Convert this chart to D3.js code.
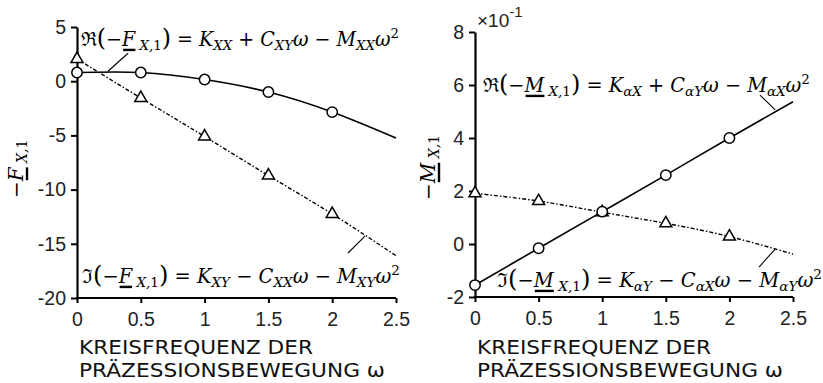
<!DOCTYPE html>
<html>
<head>
<meta charset="utf-8">
<script src="https://cdn.jsdelivr.net/npm/d3@7"></script>
<style>
  body { margin: 0; background: #fff; }
  svg { display: block; }
</style>
</head>
<body>
<div id="chart"></div>
<script>
// omega values
const omegaMarks = [0, 0.5, 1, 1.5, 2]
const omegaLine = [0, 0.5, 1, 1.5, 2, 2.5]
const xTicks = [0, 0.5, 1, 1.5, 2, 2.5]

// left panel: -F_X,1
const leftRealMarks = [0.8, 0.8, 0.15, -1.0, -2.85]
const leftRealLine = [0.8, 0.8, 0.15, -1.0, -2.85, -5.25]
const leftImagMarks = [2.05, -1.55, -5.1, -8.7, -12.25]
const leftImagLine = [2.05, -1.55, -5.1, -8.7, -12.25, -16.1]
const leftYTicks = [5, 0, -5, -10, -15, -20]

// right panel: -M_X,1 (x10^-1)
const rightRealMarks = [-1.55, -0.16, 1.22, 2.6, 4.0]
const rightRealLine = [-1.55, -0.16, 1.22, 2.6, 4.0, 5.37]
const rightImagMarks = [1.91, 1.62, 1.2, 0.78, 0.28]
const rightImagLine = [1.91, 1.62, 1.2, 0.78, 0.28, -0.38]
const rightYTicks = [8, 6, 4, 2, 0, -2]

const xLabelLines = ['KREISFREQUENZ DER', 'PRÄZESSIONSBEWEGUNG ω']

const width = 823
const height = 383

const svg = d3.select('#chart')
  .append('svg')
  .attr('width', width)
  .attr('height', height)

const serif = "'DejaVu Serif', 'Liberation Serif', serif"

// write an equation made of small pieces: [text, position, style, extra]
const mathText = (g, x, y, parts, size, fit) => {
  const t = g.append('text')
    .attr('x', x)
    .attr('y', y)
    .attr('font-family', serif)
    .attr('font-size', size)
    .style('white-space', 'pre')
  let off = 0
  parts.forEach(p => {
    const [txt, pos, sty, extra] = p
    const target = pos === 'sub' ? size * 0.22 : pos === 'sup' ? -size * 0.42 : 0
    let fs = pos === 'n' ? size : size * 0.7
    if (extra === 'big') fs = size * 1.25
    const ts = t.append('tspan')
      .attr('dy', target - off)
      .attr('font-size', fs)
      .attr('font-style', sty === 'i' ? 'italic' : 'normal')
      .text(txt)
    if (extra === 'ul') ts.classed('ul', true)
    off = target
  })
  // stretch to the width
  if (fit) {
    const w = t.node().getComputedTextLength()
    t.attr('transform', `translate(${x},0) scale(${fit / w},1) translate(${-x},0)`)
  }
  // underline the vector letter with a thick bar
  const node = t.node()
  const full = node.textContent
  t.selectAll('tspan.ul').each(function () {
    const idx = full.indexOf(this.textContent)
    const box = node.getExtentOfChar(idx)
    const k = fit ? fit / node.getComputedTextLength() : 1
    g.append('rect')
      .attr('x', x + (box.x + 1 - x) * k)
      .attr('y', y + size * 0.14)
      .attr('width', (box.width - 1) * k)
      .attr('height', 2.4)
      .attr('fill', '#000')
  })
  return t
}

const drawPanel = (cfg) => {
  const g = svg.append('g')
  const x = d3.scaleLinear().domain([0, 2.5]).range([cfg.left, cfg.right])
  const y = d3.scaleLinear().domain(cfg.yDomain).range([cfg.bottom, cfg.top])

  // axes
  const xAxis = d3.axisBottom(x)
    .tickValues(xTicks)
    .tickFormat(d => String(d))
    .tickSize(5)
    .tickSizeOuter(0)
    .tickPadding(9)
  const yAxis = d3.axisLeft(y)
    .tickValues(cfg.yTicks)
    .tickFormat(d => String(d))
    .tickSize(6)
    .tickSizeOuter(0)
    .tickPadding(5)

  const xg = g.append('g')
    .attr('transform', `translate(0,${cfg.bottom})`)
    .call(xAxis)
  const yg = g.append('g')
    .attr('transform', `translate(${cfg.left},0)`)
    .call(yAxis)
  ;[xg, yg].forEach(a => {
    a.attr('font-family', "'Liberation Sans', Arial, sans-serif").attr('font-size', 19.5)
    a.select('.domain').attr('stroke-width', 2.2)
    a.selectAll('.tick line').attr('stroke-width', 2)
    a.selectAll('.tick text').attr('fill', '#222')
  })
  xg.select('.domain').attr('d', `M${cfg.left - 1},0H${cfg.right}`)

  const line = d3.line()
    .x((d, i) => x(omegaLine[i]))
    .y(d => y(d))
    .curve(d3.curveNatural)

  // imaginary part: dash-dot line
  g.append('path')
    .datum(cfg.imagLine)
    .attr('d', line)
    .attr('fill', 'none')
    .attr('stroke', '#000')
    .attr('stroke-width', 1.4)
    .attr('stroke-dasharray', '4,2,1.5,2')

  // real part: solid line
  g.append('path')
    .datum(cfg.realLine)
    .attr('d', line)
    .attr('fill', 'none')
    .attr('stroke', '#000')
    .attr('stroke-width', 1.6)

  // triangles
  const tri = d3.symbol().type(d3.symbolTriangle).size(62)
  g.selectAll('.tri')
    .data(cfg.imagMarks)
    .join('path')
    .attr('class', 'tri')
    .attr('d', tri)
    .attr('transform', (d, i) => `translate(${x(omegaMarks[i])},${y(d)})`)
    .attr('fill', '#fff')
    .attr('stroke', '#000')
    .attr('stroke-width', 1.5)

  // circles
  g.selectAll('.circ')
    .data(cfg.realMarks)
    .join('circle')
    .attr('class', 'circ')
    .attr('cx', (d, i) => x(omegaMarks[i]))
    .attr('cy', d => y(d))
    .attr('r', 5.2)
    .attr('fill', '#fff')
    .attr('stroke', '#000')
    .attr('stroke-width', 1.5)

  // leader lines for the equations
  cfg.leaders.forEach(l => {
    g.append('line')
      .attr('x1', x(l[0])).attr('y1', y(l[1]))
      .attr('x2', x(l[2])).attr('y2', y(l[3]))
      .attr('stroke', '#000')
      .attr('stroke-width', 1.1)
  })

  // equations
  mathText(g, cfg.realEq.x, cfg.realEq.y, cfg.realEq.parts, 19.5, cfg.realEq.w)
  mathText(g, cfg.imagEq.x, cfg.imagEq.y, cfg.imagEq.parts, 19.5, cfg.imagEq.w)

  // y label, rotated
  const yl = g.append('g')
    .attr('transform', `translate(${cfg.yLabelX},${cfg.yLabelY}) rotate(-90)`)
  mathText(yl, 0, 0, cfg.yLabelParts, 20, null)

  // x label
  xLabelLines.forEach((s, i) => {
    g.append('text')
      .attr('x', cfg.left + 2)
      .attr('y', 354 + i * 23)
      .attr('font-family', "'DejaVu Sans', Verdana, sans-serif")
      .attr('font-size', 19)
      .attr('fill', '#111')
      .attr('textLength', i === 0 ? 234 : 306)
      .attr('lengthAdjust', 'spacingAndGlyphs')
      .text(s)
  })
  return { g, x, y }
}

const vec = (letter) => [
  ['(', 'n', 'n', 'big'], ['−', 'n', 'n'], [letter, 'n', 'i', 'ul'],
  [' X,', 'sub', 'i'], ['1', 'sub', 'n'], [')', 'n', 'n', 'big']
]

drawPanel({
  left: 77, right: 396, top: 27, bottom: 298,
  yDomain: [-20, 5], yTicks: leftYTicks,
  realMarks: leftRealMarks, realLine: leftRealLine,
  imagMarks: leftImagMarks, imagLine: leftImagLine,
  leaders: [[0.243, 0.92, 0.40, 2.58], [2.124, -15.85, 2.257, -14.29]],
  realEq: {
    x: 81, y: 46, w: 319,
    parts: [['ℜ', 'n', 'n'], ...vec('F'), [' = ', 'n', 'n'], ['K', 'n', 'i'], ['XX', 'sub', 'i'],
      [' + ', 'n', 'n'], ['C', 'n', 'i'], ['XY', 'sub', 'i'], ['ω − ', 'n', 'i'],
      ['M', 'n', 'i'], ['XX', 'sub', 'i'], ['ω', 'n', 'i'], ['2', 'sup', 'n']]
  },
  imagEq: {
    x: 82, y: 283, w: 318,
    parts: [['ℑ', 'n', 'n'], ...vec('F'), [' = ', 'n', 'n'], ['K', 'n', 'i'], ['XY', 'sub', 'i'],
      [' − ', 'n', 'n'], ['C', 'n', 'i'], ['XX', 'sub', 'i'], ['ω − ', 'n', 'i'],
      ['M', 'n', 'i'], ['XY', 'sub', 'i'], ['ω', 'n', 'i'], ['2', 'sup', 'n']]
  },
  yLabelX: 23, yLabelY: 198,
  yLabelParts: [['−', 'n', 'n'], ['F', 'n', 'i', 'ul'], [' X,', 'sub', 'i'], ['1', 'sub', 'n']]
})

const right = drawPanel({
  left: 475, right: 793, top: 32, bottom: 297,
  yDomain: [-2, 8], yTicks: rightYTicks,
  realMarks: rightRealMarks, realLine: rightRealLine,
  imagMarks: rightImagMarks, imagLine: rightImagLine,
  leaders: [[2.24, 5.62, 2.36, 5.06], [2.233, -0.87, 2.36, -0.19]],
  realEq: {
    x: 483, y: 92, w: 328,
    parts: [['ℜ', 'n', 'n'], ...vec('M'), [' = ', 'n', 'n'], ['K', 'n', 'i'], ['αX', 'sub', 'i'],
      [' + ', 'n', 'n'], ['C', 'n', 'i'], ['αY', 'sub', 'i'], ['ω − ', 'n', 'i'],
      ['M', 'n', 'i'], ['αX', 'sub', 'i'], ['ω', 'n', 'i'], ['2', 'sup', 'n']]
  },
  imagEq: {
    x: 497, y: 287, w: 325,
    parts: [['ℑ', 'n', 'n'], ...vec('M'), [' = ', 'n', 'n'], ['K', 'n', 'i'], ['αY', 'sub', 'i'],
      [' − ', 'n', 'n'], ['C', 'n', 'i'], ['αX', 'sub', 'i'], ['ω − ', 'n', 'i'],
      ['M', 'n', 'i'], ['αY', 'sub', 'i'], ['ω', 'n', 'i'], ['2', 'sup', 'n']]
  },
  yLabelX: 435, yLabelY: 200,
  yLabelParts: [['−', 'n', 'n'], ['M', 'n', 'i', 'ul'], [' X,', 'sub', 'i'], ['1', 'sub', 'n']]
})

// exponent note above the right y axis
const expo = right.g.append('text')
  .attr('x', 477)
  .attr('y', 27)
  .attr('font-family', "'Liberation Sans', Arial, sans-serif")
  .attr('font-size', 19)
  .attr('fill', '#222')
expo.append('tspan').text('×10')
expo.append('tspan').attr('dy', -10).attr('font-size', 15).text('-1')
</script>
</body>
</html>
